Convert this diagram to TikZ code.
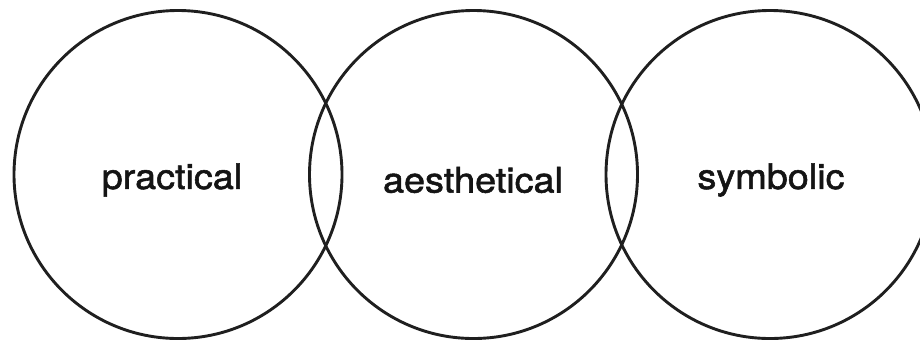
\documentclass[tikz,border=0pt]{standalone}
\usepackage{fontspec}
\newfontfamily\lblfont[FakeBold=1.6,FakeStretch=1.08]{TeX Gyre Heros}
\begin{document}
\begin{tikzpicture}[x=1pt,y=-1pt,
  ring/.style={draw=black!88,line width=2.9pt,circle,minimum size=328pt,inner sep=0pt},
  lbl/.style={font=\lblfont\fontsize{35}{39}\selectfont,text=black!92}]
\useasboundingbox (0,0) rectangle (920,341);
\begin{scope}
\clip (0,0) rectangle (920,341);
\node[ring] (p) at (178,174.5) {};
\node[ring] (a) at (473.5,174.5) {};
\node[ring] (s) at (770,174.5) {};
\end{scope}
\node[lbl] (pt) at (172,180) {practical};
\node[lbl] (at) at (473,180) {aesthetical};
\node[lbl] (st) at (771,180) {symbolic};
\end{tikzpicture}
\end{document}
